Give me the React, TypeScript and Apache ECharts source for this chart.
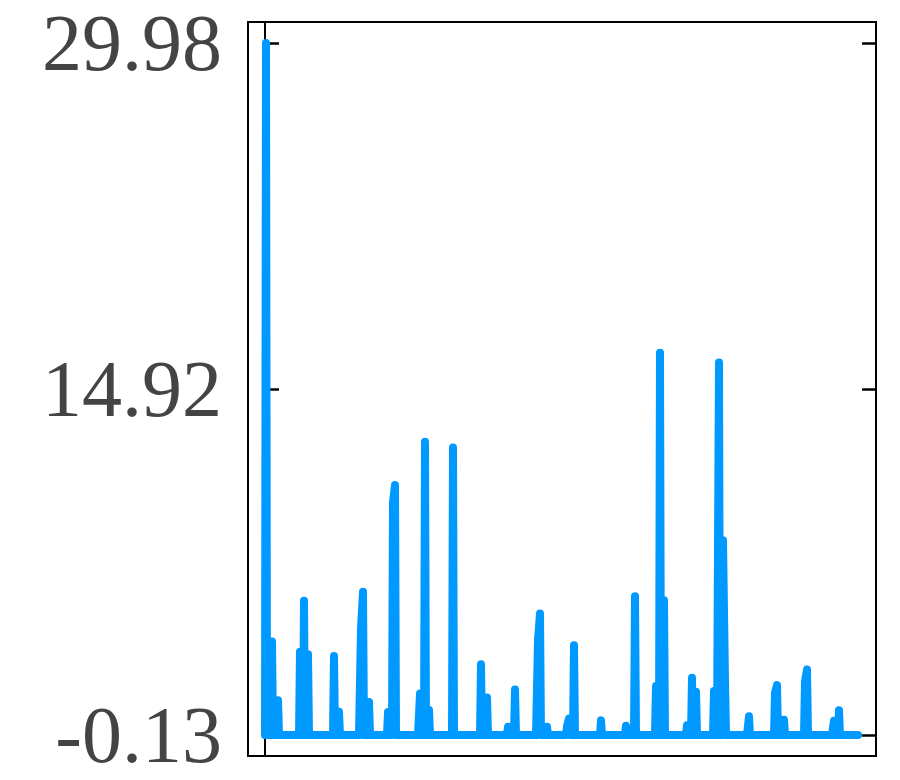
import React, { useEffect, useRef } from "react";
import * as echarts from "echarts";

// sample index along the trace
const sampleIndex: number[] = [
  0, 1, 2, 6, 7, 8, 12, 13, 14,
  34, 35, 36, 38, 39, 40, 42, 43, 44,
  68, 69, 70, 73, 74, 75,
  94, 96, 98, 99, 103, 104, 105,
  122, 123, 124, 127, 128, 130, 131,
  153, 155, 156, 159, 160, 161, 163, 164, 165,
  187, 188, 189,
  215, 216, 217, 221, 222, 223,
  242, 243, 244, 249, 250, 251,
  271, 273, 275, 276, 281, 282, 283,
  301, 302, 304, 305, 308, 309, 310,
  335, 336, 337,
  360, 361, 362, 369, 370, 371,
  390, 391, 392, 394, 395, 396, 398, 399, 400,
  421, 422, 423, 426, 427, 428, 430, 431, 432,
  448, 449, 450, 452, 454, 455, 457, 458, 460, 461,
  482, 484, 485,
  509, 510, 512, 513, 518, 519, 520,
  539, 540, 542, 543,
  567, 569, 570, 573, 574, 575,
  593,
];

// measured intensity at each sample
const intensity: number[] = [
  -0.13, 29.98, -0.13, -0.13, 3.94, -0.13, -0.13, 1.39, -0.13,
  -0.13, 3.49, -0.13, -0.13, 5.71, -0.13, -0.13, 3.39, -0.13,
  -0.13, 3.31, -0.13, -0.13, 0.88, -0.13,
  -0.13, 4.5, 6.1, -0.13, -0.13, 1.31, -0.13,
  -0.13, 0.87, -0.13, -0.13, 10.0, 10.75, -0.13,
  -0.13, 1.68, -0.13, -0.13, 12.63, -0.13, -0.13, 0.96, -0.13,
  -0.13, 12.38, -0.13,
  -0.13, 2.95, -0.13, -0.13, 1.5, -0.13,
  -0.13, 0.23, -0.13, -0.13, 1.85, -0.13,
  -0.13, 4.0, 5.16, -0.13, -0.13, 0.23, -0.13,
  -0.13, 0.25, 0.59, -0.13, -0.13, 3.78, -0.13,
  -0.13, 0.51, -0.13,
  -0.13, 0.28, -0.13, -0.13, 5.91, -0.13,
  -0.13, 2.0, -0.13, -0.13, 16.5, -0.13, -0.13, 5.74, -0.13,
  -0.13, 0.3, -0.13, -0.13, 2.36, -0.13, -0.13, 1.75, -0.13,
  -0.13, 1.79, -0.13, -0.13, 16.08, -0.13, -0.13, 8.35, 2.23, -0.13,
  -0.13, 0.69, -0.13,
  -0.13, 1.7, 2.04, -0.13, -0.13, 0.54, -0.13,
  -0.13, 2.2, 2.72, -0.13,
  -0.13, 0.49, -0.13, -0.13, 0.95, -0.13,
  -0.13,
];

const yTicks: number[] = [-0.13, 14.92, 29.98];

const SERIF = "Liberation Serif";

export default function App() {
  const ref = useRef<HTMLDivElement>(null);

  useEffect(() => {
    document.body.style.margin = "0";
    if (!ref.current) return;
    const chart = echarts.init(ref.current, null, { renderer: "svg" });
    const data = sampleIndex.map((x, i) => [x, intensity[i]]);
    const axisCommon = {
      type: "value",
      min: -1.04,
      max: 30.89,
      axisLine: { show: true, lineStyle: { color: "#000000", width: 2 } },
      axisTick: {
        show: true,
        inside: true,
        length: 14,
        customValues: yTicks,
        lineStyle: { color: "#000000", width: 2.5 },
      },
      splitLine: { show: false },
    };
    chart.setOption({
      animation: false,
      backgroundColor: "#ffffff",
      textStyle: { fontFamily: SERIF },
      grid: {
        left: 248,
        right: 24,
        top: 22,
        bottom: 24,
        show: true,
        borderColor: "#000000",
        borderWidth: 2,
        backgroundColor: "transparent",
      },
      xAxis: {
        type: "value",
        min: -17,
        max: 611,
        show: false,
      },
      yAxis: [
        {
          ...axisCommon,
          position: "left",
          axisLabel: {
            show: true,
            customValues: yTicks,
            margin: 26,
            formatter: (v: number) => v.toFixed(2),
            fontFamily: SERIF,
            fontSize: 80,
            fontWeight: "normal",
            color: "#444444",
          },
        },
        {
          ...axisCommon,
          position: "right",
          axisLabel: { show: false },
        },
      ],
      series: [
        {
          type: "line",
          data,
          yAxisIndex: 0,
          symbol: "none",
          showSymbol: false,
          z: 1,
          lineStyle: {
            color: "#0099ff",
            width: 8,
            cap: "round",
            join: "round",
          },
        },
      ],
    });
    return () => chart.dispose();
  }, []);

  return <div ref={ref} style={{ width: 900, height: 780 }} />;
}
